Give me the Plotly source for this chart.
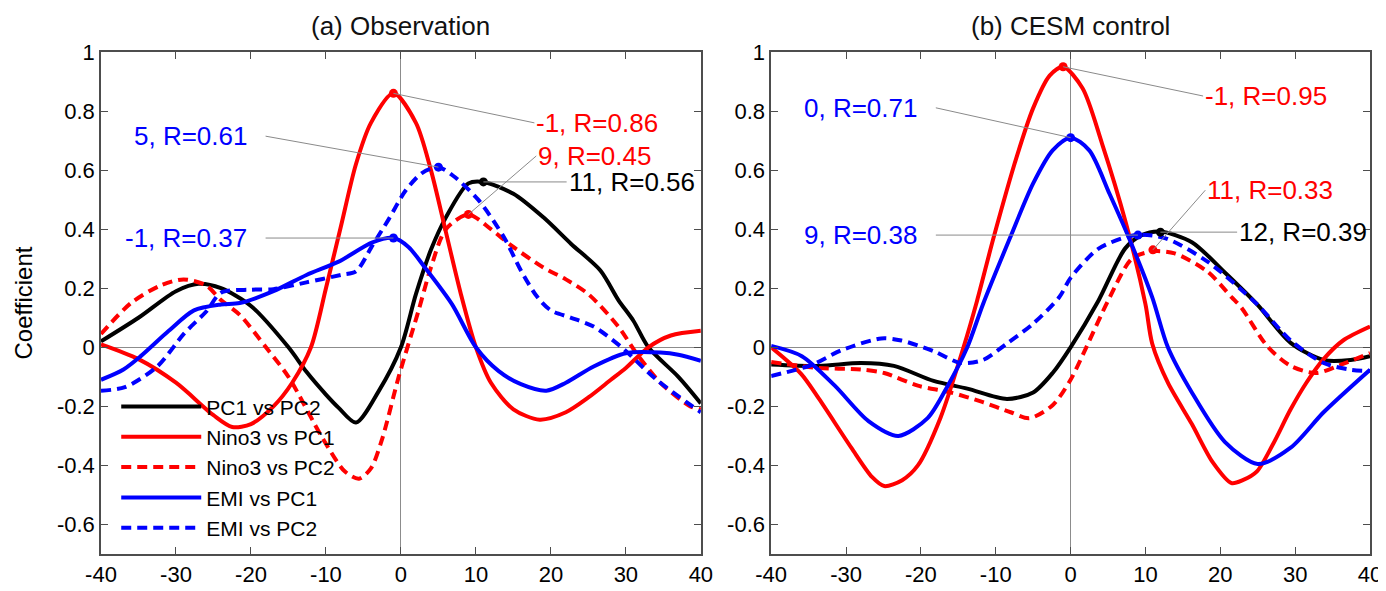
import plotly.graph_objects as go

# ---------------- data ----------------
# (a) Observation
obs_pc1_pc2_lag = [-40, -35, -30, -27, -24, -20, -15, -12.6, -10, -8.3, -6, -3, 0, 2, 4, 6, 9, 11, 15, 19, 22.7, 26.6, 29, 31, 33, 37, 40]
obs_pc1_pc2_val = [0.02, 0.10, 0.19, 0.215, 0.20, 0.14, 0.0, -0.083, -0.16, -0.205, -0.255, -0.15, 0.0, 0.18, 0.33, 0.44, 0.555, 0.56, 0.52, 0.44, 0.35, 0.26, 0.16, 0.09, 0.0, -0.10, -0.19]

obs_nino3_pc1_lag = [-40, -35, -30, -25, -22.5, -20, -17, -14.5, -12, -10, -8, -6, -4, -1, 2, 4, 6, 8, 10, 12, 15, 18.5, 22, 25, 28, 30, 33, 36, 40]
obs_nino3_pc1_val = [0.01, -0.04, -0.12, -0.23, -0.27, -0.26, -0.20, -0.12, 0.0, 0.2, 0.41, 0.62, 0.76, 0.86, 0.76, 0.6, 0.39, 0.18, 0.0, -0.12, -0.21, -0.245, -0.22, -0.17, -0.11, -0.07, 0.0, 0.04, 0.056]

obs_nino3_pc2_lag = [-40, -36, -32, -29, -26, -24, -21.5, -18, -15, -10.4, -7.5, -5.6, -4, -2.5, -0.3, 2.3, 4, 6, 9, 12, 14.7, 19, 22, 25, 29, 31.4, 34.6, 38.6, 40]
obs_nino3_pc2_val = [0.045, 0.15, 0.21, 0.23, 0.21, 0.16, 0.11, 0.0, -0.10, -0.31, -0.42, -0.445, -0.41, -0.31, -0.10, 0.12, 0.27, 0.40, 0.45, 0.40, 0.345, 0.27, 0.23, 0.18, 0.07, -0.02, -0.12, -0.20, -0.21]

obs_emi_pc1_lag = [-40, -37, -34.7, -31, -27.6, -24, -21.5, -17, -12.6, -8.3, -3.8, -1, 1, 3.2, 6.8, 10, 13, 16, 19.4, 22, 25.7, 30, 34.6, 37, 40]
obs_emi_pc1_val = [-0.11, -0.075, -0.03, 0.055, 0.125, 0.145, 0.15, 0.19, 0.245, 0.29, 0.355, 0.37, 0.34, 0.27, 0.146, 0.0, -0.08, -0.125, -0.147, -0.12, -0.065, -0.02, -0.018, -0.025, -0.046]

obs_emi_pc2_lag = [-40, -36.8, -32.5, -28.9, -25.9, -24, -20, -17, -12.6, -8, -6, -3.8, -1.6, 0.6, 2.8, 5, 7, 10.3, 13.8, 16, 18.2, 20, 22.7, 25.7, 29.3, 34.1, 40]
obs_emi_pc2_val = [-0.147, -0.135, -0.065, 0.047, 0.123, 0.185, 0.195, 0.197, 0.22, 0.245, 0.257, 0.345, 0.435, 0.53, 0.59, 0.61, 0.58, 0.50, 0.37, 0.26, 0.17, 0.125, 0.10, 0.07, 0.003, -0.11, -0.22]

# (b) CESM control
ces_pc1_pc2_lag = [-40, -33.6, -28, -23.6, -18.3, -13.8, -8.5, -5, -2.4, 0, 3.7, 7.3, 9.5, 12, 16.2, 20.5, 24.9, 29.4, 33.8, 37.4, 40]
ces_pc1_pc2_val = [-0.058, -0.063, -0.053, -0.063, -0.114, -0.14, -0.175, -0.153, -0.087, 0.0, 0.157, 0.335, 0.38, 0.392, 0.356, 0.256, 0.146, 0.015, -0.043, -0.043, -0.03]

ces_nino3_pc1_lag = [-40, -36, -33.6, -29.3, -26.5, -24.9, -22.5, -20.4, -17.4, -14.3, -12.5, -10.3, -7.2, -5, -2.8, -1, 1.6, 4.2, 7.4, 10, 10.9, 13, 16.2, 19, 21.5, 23, 24.9, 27, 29.4, 31.5, 33.8, 36.4, 40]
ces_nino3_pc1_val = [0.0, -0.09, -0.175, -0.34, -0.44, -0.47, -0.45, -0.40, -0.24, 0.0, 0.157, 0.37, 0.645, 0.81, 0.92, 0.95, 0.877, 0.69, 0.42, 0.146, 0.013, -0.12, -0.26, -0.39, -0.46, -0.45, -0.42, -0.33, -0.21, -0.12, -0.04, 0.023, 0.07]

ces_nino3_pc2_lag = [-40, -33.6, -28, -24.9, -20.4, -16, -11.7, -8, -5.5, -2.4, 0, 2.1, 5, 8.2, 11, 13.9, 18.3, 21.5, 22.8, 26.3, 29.4, 32.8, 36, 40]
ces_nino3_pc2_val = [-0.05, -0.07, -0.075, -0.087, -0.13, -0.153, -0.186, -0.22, -0.24, -0.196, -0.11, 0.0, 0.157, 0.30, 0.325, 0.318, 0.256, 0.17, 0.135, 0.003, -0.063, -0.087, -0.06, -0.02]

ces_emi_pc1_lag = [-40, -35.9, -31.5, -27, -23, -19.1, -16.4, -13.8, -11.7, -8.1, -5, -2.4, 0, 2.5, 5.2, 7.8, 10.9, 13, 16.2, 20.6, 25, 29.4, 33.8, 40]
ces_emi_pc1_val = [0.005, -0.03, -0.13, -0.25, -0.30, -0.24, -0.13, 0.0, 0.146, 0.37, 0.555, 0.667, 0.71, 0.667, 0.52, 0.37, 0.17, 0.0, -0.153, -0.32, -0.395, -0.34, -0.22, -0.076]

ces_emi_pc2_lag = [-40, -34.6, -30.6, -25.3, -22.6, -18.3, -14.7, -11.7, -8.5, -5, -1.5, 0, 3.8, 8.7, 12.6, 18.3, 24.9, 29.4, 33.8, 37.4, 40]
ces_emi_pc2_val = [-0.097, -0.06, -0.01, 0.03, 0.023, -0.013, -0.053, -0.043, 0.013, 0.08, 0.17, 0.235, 0.335, 0.38, 0.37, 0.29, 0.146, 0.023, -0.053, -0.076, -0.08]

series_names = ["PC1 vs PC2", "Nino3 vs PC1", "Nino3 vs PC2", "EMI vs PC1", "EMI vs PC2"]

# peak labels: (lag, R, series index)
obs_peaks = [(-1, 0.86, 1), (9, 0.45, 2), (11, 0.56, 0), (5, 0.61, 4), (-1, 0.37, 3)]
ces_peaks = [(-1, 0.95, 1), (0, 0.71, 3), (9, 0.38, 4), (11, 0.33, 2), (12, 0.39, 0)]

panel_titles = ["(a) Observation", "(b) CESM control"]
x_ticks = [-40, -30, -20, -10, 0, 10, 20, 30, 40]
x_ticktext = ["-40", "-30", "-20", "-10", "0", "10", "20", "30", "40"]
y_ticks = [-0.6, -0.4, -0.2, 0, 0.2, 0.4, 0.6, 0.8, 1]
y_ticktext = ["-0.6", "-0.4", "-0.2", "0", "0.2", "0.4", "0.6", "0.8", "1"]

# ---------------- style ----------------
colors = ["#000000", "#ff0000", "#ff0000", "#0000ff", "#0000ff"]
dashes = ["solid", "solid", "10px,6px", "solid", "10px,6px"]
LW = 4
FONT = "Arial, Liberation Sans, sans-serif"

# label anchor positions (layout): per panel, aligned with the peaks list
obs_label_pos = [(17.8, 0.76, "left"), (18.05, 0.648, "left"), (22.1, 0.56, "left"),
                 (-18.05, 0.715, "right"), (-18.05, 0.37, "right")]
ces_label_pos = [(17.7, 0.851, "left"), (-18, 0.811, "right"), (-18, 0.38, "right"),
                 (18, 0.532, "left"), (22.25, 0.39, "left")]

fig = go.Figure()

panels = [
    ("x", "y", [(obs_pc1_pc2_lag, obs_pc1_pc2_val), (obs_nino3_pc1_lag, obs_nino3_pc1_val),
                (obs_nino3_pc2_lag, obs_nino3_pc2_val), (obs_emi_pc1_lag, obs_emi_pc1_val),
                (obs_emi_pc2_lag, obs_emi_pc2_val)], obs_peaks, obs_label_pos),
    ("x2", "y2", [(ces_pc1_pc2_lag, ces_pc1_pc2_val), (ces_nino3_pc1_lag, ces_nino3_pc1_val),
                  (ces_nino3_pc2_lag, ces_nino3_pc2_val), (ces_emi_pc1_lag, ces_emi_pc1_val),
                  (ces_emi_pc2_lag, ces_emi_pc2_val)], ces_peaks, ces_label_pos),
]

shapes = []
annotations = []
for p, (xa, ya, data, peaks, lpos) in enumerate(panels):
    for i, (lx, lv) in enumerate(data):
        fig.add_trace(go.Scatter(
            x=lx, y=lv, xaxis=xa, yaxis=ya, mode="lines",
            line=dict(color=colors[i], width=LW, dash=dashes[i], shape="spline", smoothing=0.8),
            name=series_names[i], showlegend=(p == 0), legendgroup=series_names[i],
        ))
    # peak markers
    for (lag, r, si) in peaks:
        fig.add_trace(go.Scatter(
            x=[lag], y=[r], xaxis=xa, yaxis=ya, mode="markers",
            marker=dict(color=colors[si], size=9, symbol="circle"),
            showlegend=False, hoverinfo="skip",
        ))
    for (lag, r, si), (ax_, ay_, side) in zip(peaks, lpos):
        shapes.append(dict(type="line", xref=xa, yref=ya, x0=lag, y0=r, x1=ax_, y1=ay_,
                           line=dict(color="#8a8a8a", width=1), layer="above"))
        annotations.append(dict(
            x=ax_, y=ay_, xref=xa, yref=ya, text=f"{lag}, R={r:.2f}", showarrow=False,
            xanchor=side, yanchor="middle", xshift=(-17 if side == "right" else 0),
            font=dict(family=FONT, size=26, color=colors[si]),
        ))

# panel titles
doms = [[0.0, 0.4727], [0.5281, 1.0]]
for t, d in zip(panel_titles, doms):
    annotations.append(dict(x=(d[0] + d[1]) / 2, y=1.0508, xref="paper", yref="paper",
                            text=t, showarrow=False, xanchor="center", yanchor="middle",
                            font=dict(family=FONT, size=26, color="#111111")))

axis_common = dict(
    showgrid=False, showline=True, mirror="ticks", linecolor="#4d4d4d", linewidth=1.5,
    ticks="inside", ticklen=7, tickwidth=1.3, tickcolor="#4d4d4d",
    zeroline=True, zerolinecolor="#8c8c8c", zerolinewidth=1,
    tickfont=dict(family=FONT, size=22, color="#000000"),
)

fig.update_layout(
    width=1386, height=591,
    margin=dict(l=93, r=13, t=44, b=35),
    paper_bgcolor="white", plot_bgcolor="white",
    shapes=shapes, annotations=annotations,
    showlegend=True,
    legend=dict(x=0.012, y=0.334, xanchor="left", yanchor="top",
                bgcolor="rgba(0,0,0,0)", borderwidth=0,
                font=dict(family=FONT, size=21, color="#000000"),
                itemwidth=80, tracegroupgap=0),
    xaxis=dict(domain=doms[0], range=[-40, 40], tickvals=x_ticks, ticktext=x_ticktext,
               anchor="y", **axis_common),
    yaxis=dict(domain=[0, 1], range=[-0.7, 1], tickvals=y_ticks, ticktext=y_ticktext, anchor="x",
               title=dict(text="Coefficient", font=dict(family=FONT, size=24, color="#000000"), standoff=18),
               **axis_common),
    xaxis2=dict(domain=doms[1], range=[-40, 40], tickvals=x_ticks, ticktext=x_ticktext,
                anchor="y2", **axis_common),
    yaxis2=dict(domain=[0, 1], range=[-0.7, 1], tickvals=y_ticks, ticktext=y_ticktext, anchor="x2",
                **axis_common),
)

fig.write_html("out.html")
